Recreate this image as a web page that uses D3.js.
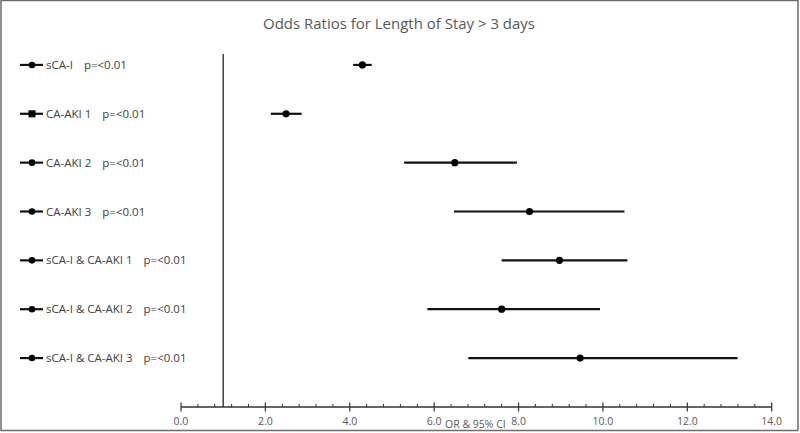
<!DOCTYPE html>
<html><head><meta charset="utf-8">
<script src="https://cdnjs.cloudflare.com/ajax/libs/d3/7.8.5/d3.min.js"></script>
<style>
html,body{margin:0;padding:0;background:#fff;}
svg{display:block;}
text{font-family:"Open Sans","Noto Sans",sans-serif;}
</style></head>
<body>
<svg id="chart" width="800" height="433"></svg>
<script>
const categories = ["sCA-I","CA-AKI 1","CA-AKI 2","CA-AKI 3","sCA-I & CA-AKI 1","sCA-I & CA-AKI 2","sCA-I & CA-AKI 3"];
const pValues = ["p=<0.01","p=<0.01","p=<0.01","p=<0.01","p=<0.01","p=<0.01","p=<0.01"];
const oddsRatio = [4.30, 2.49, 6.49, 8.26, 8.97, 7.60, 9.46];
const ciLower = [4.08, 2.13, 5.29, 6.47, 7.60, 5.84, 6.81];
const ciUpper = [4.52, 2.86, 7.96, 10.51, 10.58, 9.93, 13.19];
const markerShape = ["circle","square","circle","circle","circle","circle","circle"];
const xTicks = [0,2,4,6,8,10,12,14];
const refLine = 1;

const svg = d3.select("#chart");
const W = 800, H = 433;

// border
svg.append("rect").attr("x",1).attr("y",0.5).attr("width",W-3).attr("height",H-3)
  .attr("fill","none").attr("stroke","#6e6e6e").attr("stroke-width",1.5);

const x = d3.scaleLinear().domain([0,14]).range([181,771.7]);
const y = d3.scaleBand().domain(categories).range([40.5,382.5]);
const yc = d => y(d) + y.bandwidth()/2;
const axisY = 407;

// title
svg.append("text").attr("x",399).attr("y",29).attr("text-anchor","middle")
  .attr("fill","#595959").style("font-size","15px")
  .attr("textLength",272).attr("lengthAdjust","spacingAndGlyphs")
  .text("Odds Ratios for Length of Stay > 3 days");

// reference line at OR = 1
svg.append("line").attr("x1",x(refLine)).attr("x2",x(refLine)).attr("y1",54).attr("y2",axisY)
  .attr("stroke","#222").attr("stroke-width",1.3);

// axis
const axisG = svg.append("g").attr("transform",`translate(0,${axisY})`);
axisG.append("line").attr("x1",x(0)).attr("x2",x(14)).attr("stroke","#333").attr("stroke-width",1.3);
const minor = d3.range(0,14.0001,0.4).filter(v => Math.abs(v/2 - Math.round(v/2))>1e-6);
axisG.selectAll(".minor").data(minor).join("line")
  .attr("x1",d=>x(d)).attr("x2",d=>x(d)).attr("y1",-3).attr("y2",0)
  .attr("stroke","#333").attr("stroke-width",1);
axisG.selectAll(".major").data(xTicks).join("line")
  .attr("x1",d=>x(d)).attr("x2",d=>x(d)).attr("y1",-4.5).attr("y2",4.5)
  .attr("stroke","#333").attr("stroke-width",1.2);
axisG.selectAll(".tl").data(xTicks).join("text")
  .attr("x",d=>x(d)).attr("y",18).attr("text-anchor","middle")
  .attr("fill","#595959").style("font-size","10.5px")
  .text(d=>d3.format(".1f")(d));
svg.append("text").attr("x",445).attr("y",428).attr("fill","#595959")
  .style("font-size","10.5px").text("OR & 95% CI");

// CI lines and points
const rows = categories.map((c,i)=>({c, or:oddsRatio[i], lo:ciLower[i], hi:ciUpper[i], p:pValues[i], shape:markerShape[i]}));
svg.selectAll(".ci").data(rows).join("line")
  .attr("x1",d=>x(d.lo)).attr("x2",d=>x(d.hi)).attr("y1",d=>yc(d.c)).attr("y2",d=>yc(d.c))
  .attr("stroke","#111").attr("stroke-width",2.2);
svg.selectAll(".pt").data(rows).join("circle")
  .attr("cx",d=>x(d.or)).attr("cy",d=>yc(d.c)).attr("r",3.6).attr("fill","#000");

// legend on left
const lg = svg.selectAll(".lg").data(rows).join("g").attr("transform",d=>`translate(0,${yc(d.c)})`);
lg.append("line").attr("x1",20).attr("x2",43).attr("stroke","#111").attr("stroke-width",2.2);
lg.filter(d=>d.shape==="circle").append("circle").attr("cx",32).attr("r",3.3).attr("fill","#000");
lg.filter(d=>d.shape==="square").append("rect").attr("x",28.5).attr("y",-3.5).attr("width",7).attr("height",7).attr("fill","#000");
const lt = lg.append("text").attr("x",46).attr("y",4).attr("fill","#404040").style("font-size","11.5px").text(d=>d.c);
lg.append("text").attr("y",4).attr("fill","#404040").style("font-size","11.5px")
  .attr("x",function(d,i){ return 46 + lt.nodes()[i].getComputedTextLength() + 11; })
  .text(d=>d.p);
</script>
</body></html>
